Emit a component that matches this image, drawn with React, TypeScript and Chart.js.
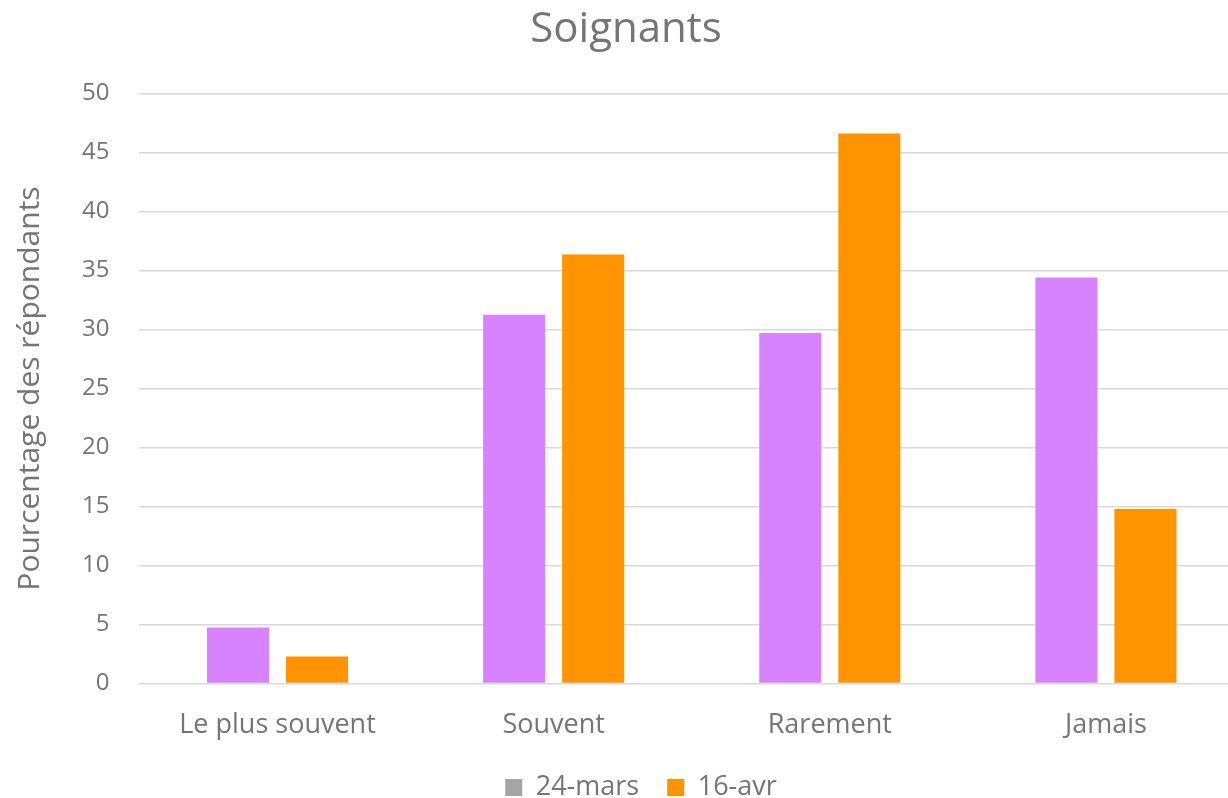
import React, { useEffect, useRef } from "react";
import { Chart, registerables } from "chart.js";

Chart.register(...registerables);

const categories = ["Le plus souvent", "Souvent", "Rarement", "Jamais"];
const seriesNames = ["24-mars", "16-avr"];
const mars24 = [4.75, 31.25, 29.7, 34.4];
const avr16 = [2.3, 36.35, 46.6, 14.8];
const legendColors = ["#A5A5A5", "#FF9300"];
const barColors = ["#D783FF", "#FF9300"];

const FONT = "'Open Sans', sans-serif";
const GREY = "#757575";

const legendShift = {
  id: "legendShift",
  afterLayout(chart: any) {
    const l = chart.legend;
    if (l) {
      l.left += 15;
      l.right += 15;
    }
  },
};

export default function App() {
  const ref = useRef<HTMLCanvasElement | null>(null);
  useEffect(() => {
    document.body.style.margin = "0";
    const ctx = ref.current!;
    const chart = new Chart(ctx, {
      type: "bar",
      data: {
        labels: categories,
        datasets: [
          {
            label: seriesNames[0],
            data: mars24,
            backgroundColor: barColors[0],
            categoryPercentage: 0.5725,
            barPercentage: 0.785,
          },
          {
            label: seriesNames[1],
            data: avr16,
            backgroundColor: barColors[1],
            categoryPercentage: 0.5725,
            barPercentage: 0.785,
          },
        ],
      },
      plugins: [legendShift],
      options: {
        animation: false,
        responsive: false,
        maintainAspectRatio: false,
        layout: { padding: { left: 8, right: 0, top: 5, bottom: -13 } },
        plugins: {
          title: {
            display: true,
            text: "Soignants",
            color: GREY,
            font: { family: FONT, size: 42, weight: "normal" },
            padding: { top: 0, bottom: 38 },
          },
          legend: {
            position: "bottom",
            labels: {
              color: GREY,
              font: { family: FONT, size: 27 },
              boxWidth: 17,
              boxHeight: 17,
              padding: 28,
              generateLabels: () =>
                seriesNames.map((n, i) => ({
                  text: n,
                  fillStyle: legendColors[i],
                  strokeStyle: legendColors[i],
                  lineWidth: 0,
                  hidden: false,
                  datasetIndex: i,
                  fontColor: GREY,
                })),
            },
          },
          tooltip: { enabled: false },
        },
        scales: {
          x: {
            grid: { display: false },
            border: { display: false },
            ticks: {
              color: GREY,
              font: { family: FONT, size: 27 },
              padding: 18,
            },
            afterFit: (scale: any) => {
              scale.height -= 14;
            },
          },
          y: {
            min: 0,
            max: 50,
            ticks: {
              stepSize: 5,
              color: GREY,
              font: { family: FONT, size: 24 },
              padding: 30,
            },
            grid: { color: "#D9D9D9", lineWidth: 1.5, drawTicks: false },
            border: { display: false },
            title: {
              display: true,
              text: "Pourcentage des répondants",
              color: GREY,
              font: { family: FONT, size: 30 },
              padding: { bottom: 4 },
            },
          },
        },
      },
    });
    return () => chart.destroy();
  }, []);
  return (
    <div style={{ width: 1228, height: 798, overflow: "hidden", position: "relative" }}>
      <canvas ref={ref} width={1244} height={798} style={{ display: "block" }} />
    </div>
  );
}
